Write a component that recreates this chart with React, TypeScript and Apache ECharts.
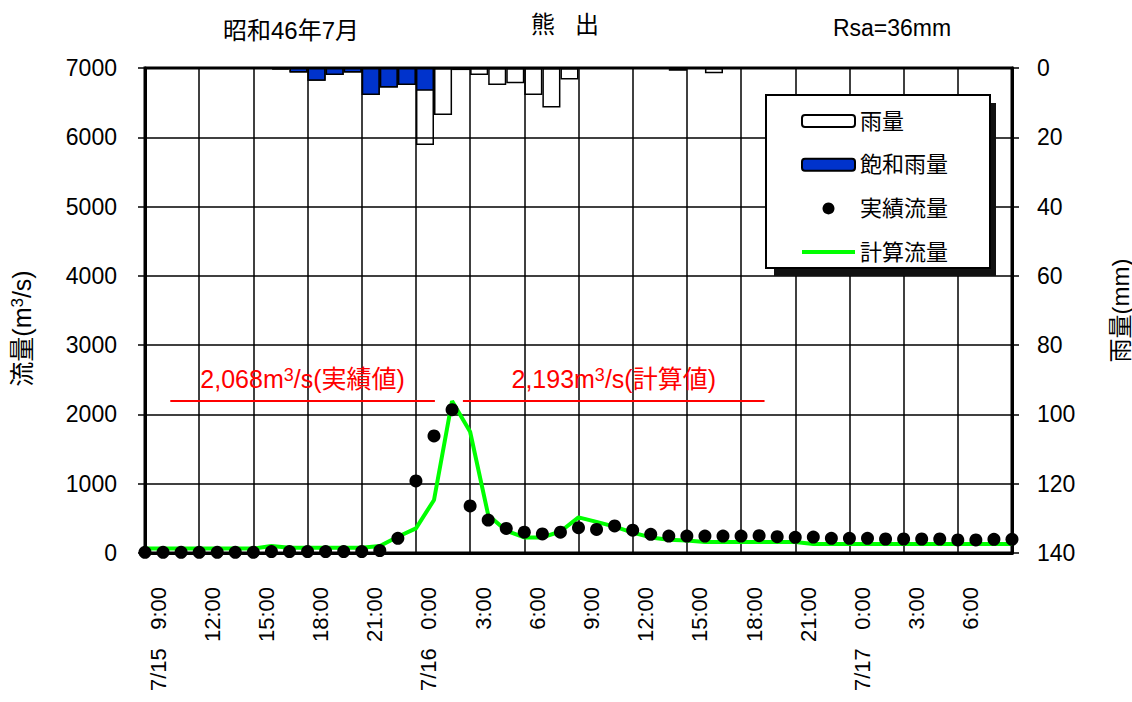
import React, { useEffect, useRef } from 'react';
import * as echarts from 'echarts';

const FONT = "'Liberation Sans', Arial, 'Noto Sans CJK JP', sans-serif";

// x tick labels (every 3 hours from 7/15 9:00)
const xTickLabels = [
  '7/15   9:00', '12:00', '15:00', '18:00', '21:00',
  '7/16   0:00', '3:00', '6:00', '9:00', '12:00', '15:00', '18:00', '21:00',
  '7/17   0:00', '3:00', '6:00',
];

// hourly intervals for rain bars (7/15 9:00 .. 7/17 9:00)
const rainIntervals = [
  '9-10', '10-11', '11-12', '12-13', '13-14', '14-15', '15-16', '16-17', '17-18', '18-19', '19-20', '20-21',
  '21-22', '22-23', '23-24', '0-1', '1-2', '2-3', '3-4', '4-5', '5-6', '6-7', '7-8', '8-9',
  '9-10b', '10-11b', '11-12b', '12-13b', '13-14b', '14-15b', '15-16b', '16-17b', '17-18b', '18-19b', '19-20b', '20-21b',
  '21-22b', '22-23b', '23-24b', '0-1b', '1-2b', '2-3b', '3-4b', '4-5b', '5-6b', '6-7b', '7-8b', '8-9b',
];

// 雨量 (mm)
const rainTotal = [
  0, 0, 0, 0, 0, 0, 0, 0.4, 1.3, 3.7, 2.0, 1.3,
  7.8, 5.6, 4.9, 22.2, 13.6, 0.6, 2.0, 4.9, 4.4, 7.8, 11.4, 3.3,
  0, 0, 0, 0, 0, 0.8, 0, 1.5, 0, 0, 0, 0,
  0, 0, 0, 0, 0, 0, 0, 0, 0, 0, 0, 0,
];

// 飽和雨量 (mm)
const rainSaturated = [
  0, 0, 0, 0, 0, 0, 0, 0.4, 1.3, 3.7, 2.0, 1.3,
  7.8, 5.6, 4.9, 6.6, 0, 0, 0, 0, 0, 0, 0, 0,
  0, 0, 0, 0, 0, 0, 0, 0, 0, 0, 0, 0,
  0, 0, 0, 0, 0, 0, 0, 0, 0, 0, 0, 0,
];

// 実績流量 (m3/s), hourly 7/15 9:00 .. 7/17 9:00
const observedFlow = [
  10, 10, 10, 10, 10, 10, 10, 20, 20, 20, 20, 20,
  20, 35, 212, 1040, 1690, 2068, 680, 475, 355, 300, 275, 300,
  365, 340, 390, 330, 270, 245, 245, 245, 245, 245, 250, 236,
  226, 230, 212, 212, 212, 202, 202, 202, 202, 188, 188, 198,
  198,
];

// 計算流量 (m3/s)
const computedFlow = [
  65, 65, 65, 65, 65, 65, 65, 100, 75, 75, 75, 75,
  75, 100, 235, 355, 765, 2193, 1750, 550, 320, 225, 225, 310,
  515, 450, 380, 295, 225, 190, 180, 160, 160, 160, 160, 160,
  160, 130, 130, 130, 130, 130, 130, 130, 130, 130, 130, 130,
  130,
];

// annotation lines
const annotations = [
  { text: '2,068m{sup|3}/s(実績値)', from: 1.4, to: 16.05, level: 2193 },
  { text: '2,193m{sup|3}/s(計算値)', from: 17.6, to: 34.3, level: 2193 },
];

export default function App() {
  const ref = useRef<HTMLDivElement>(null);

  useEffect(() => {
    const chart = echarts.init(ref.current as HTMLDivElement, null, { renderer: 'svg' });
    const black = '#000';
    const option: any = {
      animation: false,
      backgroundColor: '#fff',
      textStyle: { fontFamily: FONT },
      title: [
        {
          text: '昭和46年7月', left: 291, top: 18, textAlign: 'center', padding: 0,
          textStyle: { fontSize: 24, fontWeight: 'normal', color: black, fontFamily: FONT },
        },
        {
          text: '熊   出', left: 565, top: 12, textAlign: 'center', padding: 0,
          textStyle: { fontSize: 24, fontWeight: 'normal', color: black, fontFamily: FONT },
        },
        {
          text: 'Rsa=36mm', left: 892, top: 16, textAlign: 'center', padding: 0,
          textStyle: { fontSize: 23, fontWeight: 'normal', color: black, fontFamily: FONT },
        },
      ],
      grid: {
        left: 145, right: 120, top: 68, bottom: 149,
        outerBoundsMode: 'none', containLabel: false,
        show: true, borderColor: black, borderWidth: 3, backgroundColor: '#fff',
      },
      legend: {
        data: [
          { name: '雨量' },
          { name: '飽和雨量' },
          { name: '実績流量' },
          { name: '計算流量', itemStyle: { opacity: 0 }, lineStyle: { width: 4, color: '#00ff00' } },
        ],
        orient: 'vertical',
        left: 766, top: 95,
        padding: [15, 42, 5, 34],
        itemWidth: 53, itemHeight: 12, itemGap: 21.7,
        backgroundColor: '#fff', borderColor: black, borderWidth: 2,
        textStyle: { fontSize: 22, color: black, fontFamily: FONT, lineHeight: 22 },
        z: 10,
      },
      graphic: [
        {
          type: 'rect', left: 774, top: 103, z: 9,
          shape: { width: 222, height: 173 },
          style: { fill: '#111' },
        },
      ],
      xAxis: [
        {
          type: 'value', min: 0, max: 48, interval: 3,
          axisLine: { show: true, lineStyle: { color: black, width: 3 } },
          axisTick: { show: false },
          splitLine: { show: true, lineStyle: { color: black, width: 1.5 } },
          axisLabel: {
            rotate: 90, margin: 34, fontSize: 22, color: black, fontFamily: FONT,
            verticalAlign: 'top', padding: [2, 0, 0, 0],
            formatter: (v: number) => (v < 48 ? xTickLabels[Math.round(v / 3)] : ''),
          },
        },
        {
          type: 'category', data: rainIntervals, show: false, boundaryGap: true,
        },
      ],
      yAxis: [
        {
          type: 'value', min: 0, max: 7000, interval: 1000, position: 'left',
          axisLine: { show: true, lineStyle: { color: black, width: 3 } },
          axisTick: { show: true, length: 7, lineStyle: { color: black, width: 1.5 } },
          axisLabel: {
            fontSize: 23, color: black, margin: 28, fontFamily: FONT,
            formatter: (v: number) => String(v),
          },
          splitLine: { show: true, lineStyle: { color: black, width: 1.5 } },
          name: '流量(m{sup|3}/s)', nameLocation: 'middle', nameGap: 111, nameRotate: 90,
          nameTextStyle: {
            fontSize: 25, color: black, fontFamily: FONT, padding: [0, 36, 0, 0],
            rich: { sup: { fontSize: 17, verticalAlign: 'top', color: black, fontFamily: FONT } },
          },
        },
        {
          type: 'value', min: 0, max: 140, interval: 20, position: 'right', inverse: true,
          axisLine: { show: true, lineStyle: { color: black, width: 3 } },
          axisTick: { show: true, length: 7, lineStyle: { color: black, width: 1.5 } },
          axisLabel: { fontSize: 23, color: black, margin: 25, fontFamily: FONT },
          splitLine: { show: false },
          name: '雨量(mm)', nameLocation: 'middle', nameGap: 96, nameRotate: 90,
          nameTextStyle: { fontSize: 24, color: black, fontFamily: FONT },
        },
      ],
      series: [
        {
          type: 'bar', name: '雨量', xAxisIndex: 1, yAxisIndex: 1,
          data: rainTotal, barWidth: '100%',
          itemStyle: { color: 'rgba(255,255,255,0)', borderColor: black, borderWidth: 1.5 },
          z: 2,
        },
        {
          type: 'bar', name: '飽和雨量', xAxisIndex: 1, yAxisIndex: 1,
          data: rainSaturated, barWidth: '100%', barGap: '-100%',
          itemStyle: { color: '#0033cc', borderColor: black, borderWidth: 1.5 },
          z: 3,
        },
        {
          type: 'line', name: '計算流量', xAxisIndex: 0, yAxisIndex: 0,
          data: computedFlow.map((v, i) => [i, v]),
          symbol: 'none',
          lineStyle: { color: '#00ff00', width: 4 },
          itemStyle: { color: '#00ff00' },
          z: 4,
          markLine: {
            silent: true, symbol: 'none',
            lineStyle: { color: '#ff0000', width: 2, type: 'solid' },
            label: {
              show: true, position: 'insideMiddleTop', distance: 10,
              fontSize: 25, color: '#ff0000', fontFamily: FONT,
              rich: { sup: { fontSize: 18, verticalAlign: 'top', color: '#ff0000', fontFamily: FONT } },
            },
            data: annotations.map((a) => [
              { coord: [a.from, a.level], label: { formatter: a.text } },
              { coord: [a.to, a.level] },
            ]),
          },
        },
        {
          type: 'scatter', name: '実績流量', xAxisIndex: 0, yAxisIndex: 0,
          data: observedFlow.map((v, i) => [i, v]),
          symbol: 'circle', symbolSize: 13,
          itemStyle: { color: black, opacity: 1 },
          z: 5,
        },
      ],
    };
    chart.setOption(option);
    return () => chart.dispose();
  }, []);

  return (
    <div
      ref={ref}
      style={{ position: 'fixed', left: 0, top: 0, width: 1132, height: 702, background: '#fff' }}
    />
  );
}
